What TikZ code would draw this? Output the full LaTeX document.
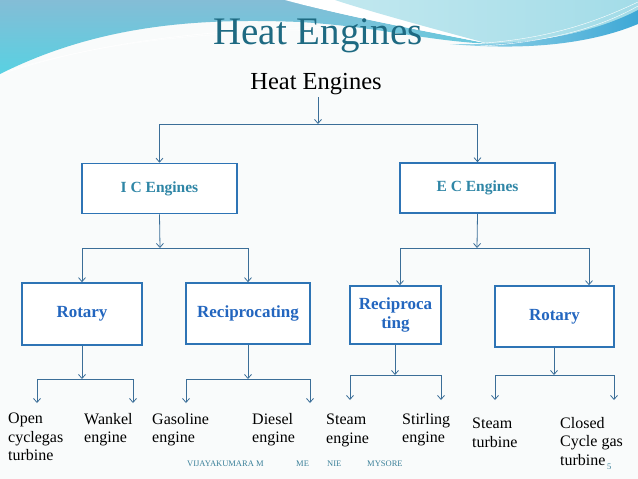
\documentclass[tikz,border=0pt]{standalone}
\usepackage{fontspec}
\setmainfont{Liberation Serif}
\usetikzlibrary{arrows.meta}
\definecolor{titlecol}{HTML}{1E6A82}
\definecolor{bgwhite}{HTML}{F9FBFB}
\definecolor{boxblue}{HTML}{2E74B5}
\definecolor{lineblue}{HTML}{3B6E98}
\definecolor{tealtext}{HTML}{2F86A6}
\definecolor{bluetext}{HTML}{2366BF}
\definecolor{footcol}{HTML}{3A8099}
\definecolor{waveTop}{HTML}{84BDD6}
\definecolor{waveBot}{HTML}{58D1E2}
\definecolor{lightA}{HTML}{C2E8EF}
\definecolor{lightB}{HTML}{A3DCE8}
\definecolor{bandA}{HTML}{9AD6E8}
\definecolor{bandB}{HTML}{3EA8D6}
\begin{document}
\begin{tikzpicture}[x=1pt,y=-1pt,
  box/.style={draw=boxblue, line width=1.6pt, fill=white, inner sep=0pt, align=center},
  conn/.style={draw=lineblue, line width=0.8pt},
  arr/.style={conn, -{Straight Barb[length=4pt,width=7pt]}},
  leaf/.style={anchor=north west, align=left, inner sep=0pt, font=\fontsize{16}{18.5}\selectfont},
  iclab/.style={text=tealtext, font=\bfseries\fontsize{15.5}{17}\selectfont},
  sublab/.style={text=bluetext, font=\bfseries\fontsize{17}{18.5}\selectfont},
  foot/.style={text=footcol, anchor=base west, inner sep=0pt, font=\fontsize{8.5}{10}\selectfont}]
\useasboundingbox (0,0) rectangle (638,479);
\fill[bgwhite] (0,0) rectangle (638,479);
% top wave decoration
\shade[top color=waveTop, bottom color=waveBot]
  (0,0) -- (290,0) .. controls (340,16) and (420,30) .. (490,44)
  .. controls (420,40) and (380,27) .. (300,22)
  .. controls (200,18) and (100,24) .. (0,74) -- cycle;
\fill[white] (285,0) .. controls (340,15) and (420,30) .. (490,44)
  .. controls (430,28) and (365,10) .. (335,0) -- cycle;
\shade[left color=lightA, right color=lightB]
  (335,0) .. controls (365,10) and (430,28) .. (490,44)
  .. controls (560,40) and (610,25) .. (638,14) -- (638,0) -- cycle;
\shade[left color=bandA, right color=bandB]
  (450,44) .. controls (540,46) and (600,30) .. (638,10)
  -- (638,24) .. controls (600,40) and (540,52) .. (450,44) -- cycle;
\draw[white, line width=0.6pt] (4,73) .. controls (100,42) and (200,30) .. (330,27);
\draw[white, line width=0.4pt] (10,70) .. controls (110,40) and (210,32) .. (330,30);
\draw[white, line width=0.4pt] (470,44) .. controls (550,40) and (600,20) .. (638,2);
\draw[white, line width=0.4pt] (480,46) .. controls (560,42) and (610,22) .. (638,6);

% titles
\node[text=titlecol, anchor=base, inner sep=0pt, font=\fontsize{39}{40}\selectfont] (title) at (318,44) {Heat Engines};
\node[anchor=base, inner sep=0pt, font=\fontsize{24.5}{26}\selectfont] (he) at (316,89) {Heat Engines};

% boxes
\node[box, iclab, minimum width=155pt, minimum height=50pt] (ic) at (159.5,188.5) {I C Engines};
\node[box, iclab, minimum width=155pt, minimum height=50pt] (ec) at (477.5,188) {E C Engines};

\node[box, minimum width=120pt, minimum height=62pt, sublab] (icr) at (82,314) {Rotary};
\node[box, minimum width=124pt, minimum height=61pt, sublab] (icp) at (248,313.5) {Reciprocating};
\node[box, minimum width=91pt, minimum height=58pt, sublab] (ecp) at (395.5,315) {Reciproca\\ting};
\node[box, minimum width=119pt, minimum height=61pt, sublab] (ecr) at (554.5,316.5) {Rotary};

% junction coordinates
\coordinate (j0) at (318,124);
\coordinate (j1) at (160,248);
\coordinate (j2) at (477,248);
\coordinate (j3) at (82,379);
\coordinate (j4) at (248,379);
\coordinate (j5) at (395,375);
\coordinate (j6) at (554,375);

% level 1
\draw[arr] (he.south -| j0) ++(0,3) -- (j0);
\draw[conn] (ic.north |- j0) -- (ec.north |- j0);
\draw[arr] (ic.north |- j0) -- (ic.north);
\draw[arr] (ec.north |- j0) -- (ec.north);
% level 2
\coordinate (e1) at (400,248);
\coordinate (e2) at (589,248);
\draw[arr] (ic.south) -- (j1);
\draw[conn] (icr.north |- j1) -- (icp.north |- j1);
\draw[arr] (icr.north |- j1) -- (icr.north);
\draw[arr] (icp.north |- j1) -- (icp.north);
\draw[arr] (ec.south) -- (j2);
\draw[conn] (e1) -- (e2);
\draw[arr] (e1) -- (e1 |- ecp.north);
\draw[arr] (e2) -- (e2 |- ecr.north);
% level 3 leaves
\coordinate (l1) at (37,403);  \coordinate (l2) at (133,403);
\coordinate (l3) at (186,403); \coordinate (l4) at (310,403);
\coordinate (l5) at (350,400); \coordinate (l6) at (441,400);
\coordinate (l7) at (495,400); \coordinate (l8) at (614,400);
\draw[arr] (icr.south) -- (j3);
\draw[conn] (l1 |- j3) -- (l2 |- j3);
\draw[arr] (l1 |- j3) -- (l1);
\draw[arr] (l2 |- j3) -- (l2);
\draw[arr] (icp.south) -- (j4);
\draw[conn] (l3 |- j4) -- (l4 |- j4);
\draw[arr] (l3 |- j4) -- (l3);
\draw[arr] (l4 |- j4) -- (l4);
\draw[arr] (ecp.south -| j5) -- (j5);
\draw[conn] (l5 |- j5) -- (l6 |- j5);
\draw[arr] (l5 |- j5) -- (l5);
\draw[arr] (l6 |- j5) -- (l6);
\draw[arr] (ecr.south -| j6) -- (j6);
\draw[conn] (l7 |- j6) -- (l8 |- j6);
\draw[arr] (l7 |- j6) -- (l7);
\draw[arr] (l8 |- j6) -- (l8);

% leaf texts
\node[leaf] (t1) at (8,413) {Open\\cyclegas\\turbine};
\node[leaf] (t2) at (84,413) {Wankel\\engine};
\node[leaf] (t3) at (152,413) {Gasoline\\engine};
\node[leaf] (t4) at (252,413) {Diesel\\engine};
\node[leaf] (t5) at (326,414) {Steam\\engine};
\node[leaf] (t6) at (402,413) {Stirling\\engine};
\node[leaf] (t7) at (472,418) {Steam\\turbine};
\node[leaf] (t8) at (560,417) {Closed\\Cycle gas\\turbine};

% footer
\node[foot] (f1) at (187,466) {VIJAYAKUMARA M};
\node[foot] (f2) at (296,466) {ME};
\node[foot] (f3) at (327,466) {NIE};
\node[foot] (f4) at (367,466) {MYSORE};
\node[foot] (pg) at (607,469) {5};
\end{tikzpicture}
\end{document}
